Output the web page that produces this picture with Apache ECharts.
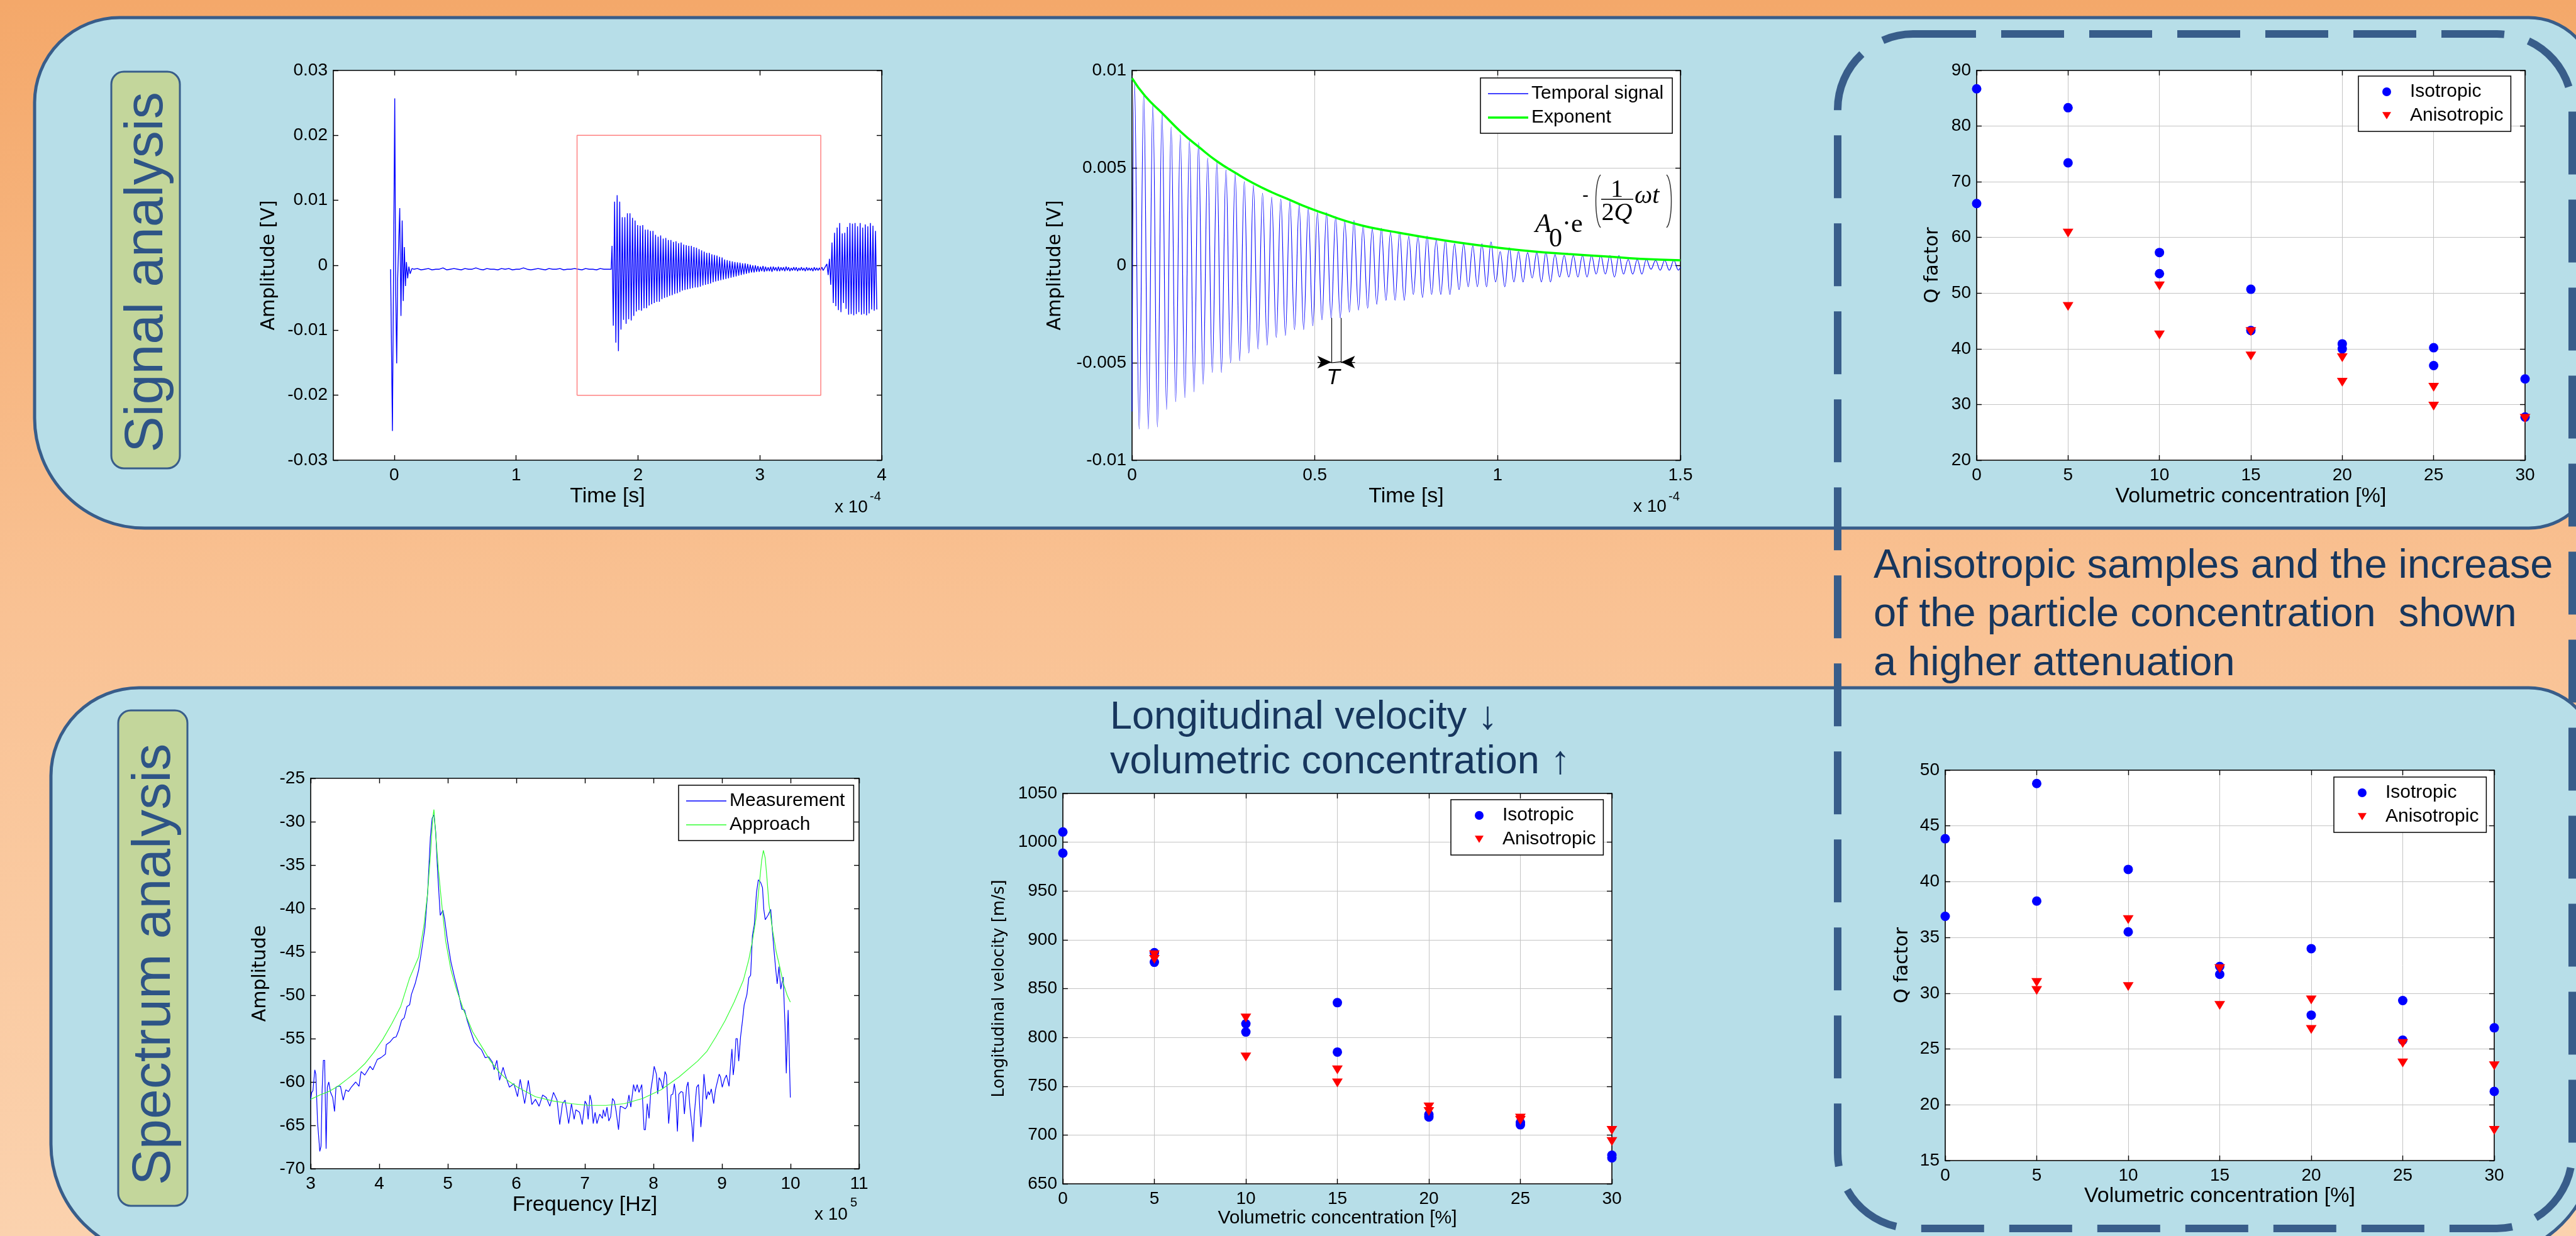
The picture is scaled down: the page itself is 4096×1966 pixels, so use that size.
<!DOCTYPE html>
<html>
<head>
<meta charset="utf-8">
<title>Signal and spectrum analysis</title>
<script src="https://cdn.jsdelivr.net/npm/echarts/dist/echarts.min.js"></script>
<style>
  html, body { margin: 0; padding: 0; background: #f6b983; }
  #main { width: 4096px; height: 1966px; }
</style>
</head>
<body>
<div id="main"></div>
<script>
// ---- Signal analysis, full record (time in 1e-4 s, amplitude in mV) ----
const pulseT = [-0.03, -0.015, 0.004, 0.012, 0.02, 0.028, 0.045, 0.055, 0.065, 0.074, 0.083, 0.092, 0.1, 0.11, 0.12, 0.13, 0.145];
const pulseV = [-0.6, -25.5, 25.7, -4.0, -15.1, -2.0, 8.8, -7.8, 6.9, -5.5, 2.8, -3.2, 0.5, -2.0, -0.2, -1.3, -0.5];
const noiseStart = 0.16, noiseStep = 0.03;
const noiseV = [-0.6,-0.5,-0.7,-0.6,-0.5,-0.7,-0.6,-0.6,-0.4,-0.7,-0.6,-0.5,-0.6,-0.7,-0.5,-0.6,-0.6,-0.4,-0.6,-0.7,
  -0.5,-0.6,-0.6,-0.7,-0.5,-0.6,-0.5,-0.7,-0.6,-0.6,-0.4,-0.6,-0.7,-0.6,-0.5,-0.6,-0.7,-0.5,-0.6,-0.6,
  -0.5,-0.7,-0.6,-0.6,-0.5,-0.6,-0.7,-0.5,-0.6,-0.6,-0.7,-0.5,-0.6,-0.6,-0.6];
const burstPeriod = 0.021;
const burst1Start = 1.787;
const burst1Hi = [3.0, 9.8, 10.8, 9.8, 7.4, 7.4, 8.0, 8.0, 7.3, 6.9, 6.2, 6.1, 6.2, 5.5, 5.5, 5.3, 5.3,
  4.7, 4.4, 4.6, 4.1, 4.2, 3.9, 3.9, 3.6, 3.7, 3.4, 3.5, 3.2, 3.1, 3.0, 3.0, 2.8, 2.7, 2.5, 2.3, 2.1,
  1.9, 1.9, 1.7, 1.6, 1.5, 1.3, 1.2, 0.9, 0.8, 0.7, 0.6, 0.5, 0.45, 0.4, 0.3, 0.3, 0.2, 0.1, 0.0, 0.0,
  -0.1, -0.2, -0.1, -0.2, -0.3, -0.2, -0.2, -0.3, -0.2, -0.3, -0.3, -0.2, -0.3, -0.4, -0.3, -0.3, -0.4,
  -0.3, -0.4, -0.3, -0.4, -0.4, -0.3, -0.4, -0.4, -0.3];
const burst1Lo = [-9.3, -11.9, -13.2, -9.9, -8.4, -9.0, -8.3, -8.5, -7.8, -7.1, -6.9, -7.0, -6.6, -6.6, -6.2, -6.0, -5.8,
  -5.6, -5.6, -5.2, -5.0, -4.9, -4.7, -4.6, -4.4, -4.3, -4.1, -3.9, -3.8, -3.7, -3.6, -3.5, -3.4, -3.4, -3.3, -3.1, -3.0,
  -2.9, -2.8, -2.6, -2.5, -2.4, -2.3, -2.2, -2.1, -2.0, -1.9, -1.8, -1.7, -1.6, -1.5, -1.4, -1.3, -1.2, -1.1, -1.1, -1.0,
  -1.0, -0.9, -1.0, -0.9, -0.9, -1.0, -0.8, -0.9, -0.9, -0.8, -0.9, -0.8, -0.9, -0.8, -0.8, -0.9, -0.8,
  -0.8, -0.9, -0.8, -0.8, -0.9, -0.8, -0.8, -0.8, -0.8];
const burst2Start = 3.55;
const burst2Hi = [0.2, 1.0, 3.5, 5.0, 5.8, 6.5, 4.9, 5.0, 5.9, 6.5, 6.4, 6.5, 6.0, 6.5, 5.8, 6.3, 6.0, 6.5, 6.1, 5.3];
const burst2Lo = [-1.5, -3.0, -5.8, -6.3, -6.9, -7.2, -5.8, -6.7, -7.6, -7.5, -7.7, -7.5, -7.2, -7.6, -7.5, -7.7, -7.4, -6.8, -7.0, -6.8];
const zoomBox = [[1.5, -20], [1.5, 20], [3.5, 20], [3.5, -20], [1.5, -20]];

// ---- Decay detail (time in 1e-4 s, amplitude in mV) ----
const decayStart = 0.007, decayPeriod = 0.025;
const decayHi = [9.5, 8.8, 8.3, 7.9, 7.1, 6.7, 6.4, 6.3, 5.5, 5.3,
  4.9, 4.7, 4.3, 4.1, 3.7, 3.5, 3.4, 3.3, 3.1, 2.9,
  2.7, 2.7, 2.5, 2.3, 2.3, 2.0, 1.9, 1.9, 1.7, 1.7,
  1.5, 1.5, 1.5, 1.3, 1.3, 1.1, 1.1, 1.0, 1.1, 1.2,
  0.7, 0.9, 0.7, 0.65, 0.65, 0.65, 0.55, 0.5, 0.5, 0.5,
  0.5, 0.5, 0.5, 0.5, 0.3, 0.3, 0.3, 0.25, 0.25, 0.25];
const decayLo = [-8.4, -8.4, -8.3, -7.4, -7.0, -6.8, -6.5, -6.1, -5.5, -5.5,
  -5.0, -4.9, -4.5, -4.3, -4.1, -3.7, -3.6, -3.3, -3.3, -3.1,
  -2.8, -2.7, -2.7, -2.4, -2.3, -2.2, -2.0, -1.8, -1.8, -1.8,
  -1.5, -1.65, -1.5, -1.5, -1.5, -1.25, -1.1, -1.1, -1.1, -0.85,
  -1.1, -0.85, -0.85, -0.65, -0.85, -0.85, -0.6, -0.6, -0.6, -0.6,
  -0.45, -0.45, -0.6, -0.45, -0.45, -0.45, -0.2, -0.25, -0.25, -0.25];
const expT = [0, 0.036, 0.085, 0.134, 0.184, 0.233, 0.283, 0.332, 0.382, 0.431, 0.481, 0.53, 0.58, 0.629, 0.679, 0.728, 0.797, 0.896, 0.995, 1.094, 1.193, 1.292, 1.391, 1.5];
const expV = [9.6, 8.68, 7.76, 6.84, 6.05, 5.33, 4.74, 4.21, 3.75, 3.36, 2.96, 2.63, 2.30, 2.04, 1.84, 1.68, 1.45, 1.16, 0.92, 0.72, 0.58, 0.46, 0.33, 0.26];
const periodMarks = [0.545, 0.572];

// ---- Q factor from the signal ----
const qTopIso = [[0,86.7],[0,66.1],[5,83.3],[5,73.4],[10,57.3],[10,53.5],[15,50.7],[15,43.3],[20,40.9],[20,40.0],[25,40.2],[25,37.0],[30,34.6],[30,27.75]];
const qTopAniso = [[5,60.8],[5,47.6],[10,51.3],[10,42.5],[15,43.1],[15,38.7],[20,38.4],[20,34.0],[25,33.1],[25,29.7],[30,27.5]];

// ---- Spectrum (frequency in 1e5 Hz, amplitude) ----
const specMeas = [[3.0,-62.1],[3.015,-61.2],[3.033,-61.0],[3.06,-58.6],[3.075,-59.1],[3.1,-64.6],[3.133,-68.0],[3.151,-67.4],[3.167,-60.9],[3.185,-57.5],
  [3.204,-57.5],[3.225,-67.7],[3.243,-60.6],[3.264,-60.0],[3.29,-61.2],[3.322,-61.8],[3.348,-63.4],[3.369,-60.6],[3.395,-60.5],[3.435,-60.5],
  [3.474,-62.1],[3.513,-60.9],[3.552,-61.1],[3.592,-60.6],[3.657,-60.0],[3.705,-60.5],[3.736,-58.8],[3.789,-59.2],[3.867,-58.2],[3.906,-58.6],
  [3.972,-57.4],[4.024,-57.2],[4.09,-56.8],[4.103,-55.7],[4.155,-55.4],[4.208,-54.9],[4.247,-54.8],[4.287,-54.0],[4.326,-52.9],[4.365,-52.6],
  [4.405,-51.3],[4.444,-51.1],[4.47,-49.9],[4.523,-48.7],[4.575,-47.1],[4.627,-44.4],[4.667,-42.2],[4.706,-38.2],[4.746,-31.8],[4.772,-29.6],
  [4.798,-29.2],[4.824,-31.2],[4.85,-35.5],[4.89,-40.8],[4.929,-40.2],[4.955,-41.3],[4.995,-43.7],[5.047,-46.2],[5.1,-48.0],[5.152,-49.6],
  [5.205,-51.6],[5.244,-51.7],[5.283,-52.9],[5.336,-54.2],[5.388,-55.4],[5.44,-55.9],[5.493,-56.3],[5.545,-57.2],[5.598,-57.1],[5.65,-57.7],
  [5.676,-58.6],[5.716,-57.5],[5.755,-59.8],[5.807,-58.3],[5.834,-59.1],[5.899,-60.6],[5.965,-60.2],[6.017,-61.7],[6.057,-59.7],[6.122,-62.5],
  [6.175,-59.8],[6.227,-62.6],[6.279,-62.0],[6.332,-62.8],[6.384,-61.5],[6.437,-61.8],[6.489,-62.8],[6.542,-61.2],[6.594,-62.1],[6.633,-64.9],
  [6.673,-62.5],[6.712,-62.1],[6.764,-64.8],[6.804,-62.5],[6.843,-64.3],[6.869,-63.2],[6.922,-63.5],[6.961,-64.9],[7.002,-62.2],[7.029,-62.6],
  [7.048,-64.3],[7.074,-61.5],[7.096,-62.2],[7.122,-64.8],[7.149,-63.5],[7.176,-64.8],[7.216,-63.7],[7.256,-64.2],[7.269,-63.2],[7.296,-64.0],
  [7.323,-62.9],[7.349,-64.5],[7.376,-64.0],[7.403,-61.9],[7.429,-62.2],[7.456,-63.4],[7.491,-65.5],[7.517,-62.8],[7.55,-62.9],[7.59,-63.1],
  [7.616,-62.8],[7.643,-61.5],[7.67,-62.9],[7.71,-60.3],[7.736,-61.1],[7.763,-60.3],[7.79,-61.2],[7.83,-60.3],[7.864,-65.5],[7.883,-65.5],
  [7.91,-62.5],[7.936,-64.2],[7.963,-60.9],[7.99,-59.5],[8.011,-58.2],[8.043,-59.1],[8.062,-61.4],[8.083,-59.5],[8.11,-59.9],[8.137,-60.8],
  [8.169,-58.8],[8.19,-59.2],[8.222,-64.8],[8.257,-61.5],[8.283,-61.4],[8.305,-60.2],[8.323,-61.2],[8.35,-65.7],[8.371,-61.4],[8.404,-61.1],
  [8.43,-61.2],[8.452,-63.7],[8.484,-60.6],[8.505,-60.0],[8.532,-62.9],[8.564,-65.2],[8.577,-66.9],[8.596,-63.8],[8.63,-60.6],[8.657,-60.3],
  [8.692,-65.2],[8.71,-63.5],[8.737,-59.1],[8.772,-62.0],[8.799,-61.1],[8.817,-61.5],[8.844,-60.8],[8.879,-62.5],[8.905,-60.9],[8.959,-59.1],
  [8.977,-59.4],[9.004,-60.6],[9.036,-59.7],[9.065,-59.2],[9.103,-60.5],[9.124,-58.2],[9.145,-56.2],[9.164,-59.2],[9.183,-57.9],[9.204,-55.0],
  [9.223,-55.0],[9.244,-57.6],[9.271,-54.8],[9.298,-53.0],[9.324,-51.1],[9.364,-49.9],[9.391,-48.0],[9.418,-47.7],[9.444,-43.1],[9.471,-41.9],
  [9.503,-38.2],[9.53,-36.7],[9.564,-37.0],[9.591,-37.6],[9.61,-40.1],[9.631,-41.3],[9.671,-40.8],[9.711,-40.1],[9.751,-44.1],[9.778,-46.5],
  [9.805,-48.7],[9.831,-46.7],[9.858,-49.3],[9.893,-47.9],[9.92,-53.6],[9.938,-59.0],[9.965,-51.7],[9.997,-61.8]];
const specFit = [[3.0,-62.0],[3.133,-61.5],[3.264,-61.1],[3.395,-60.5],[3.528,-59.7],[3.657,-58.9],[3.789,-57.9],[3.92,-56.6],[4.051,-55.1],[4.182,-53.3],
  [4.313,-51.3],[4.444,-48.0],[4.575,-45.6],[4.654,-41.9],[4.706,-38.2],[4.746,-33.9],[4.78,-29.6],[4.798,-28.6],[4.824,-31.5],[4.863,-35.5],
  [4.903,-38.8],[4.968,-43.7],[5.047,-47.1],[5.126,-49.3],[5.231,-51.7],[5.362,-54.2],[5.493,-55.9],[5.624,-57.6],[5.755,-58.9],[5.886,-59.9],
  [6.017,-60.6],[6.279,-61.7],[6.541,-62.2],[6.804,-62.5],[7.05,-62.7],[7.309,-62.7],[7.576,-62.5],[7.843,-61.9],[8.11,-60.9],[8.377,-59.4],
  [8.644,-57.6],[8.777,-56.5],[8.911,-54.8],[9.044,-52.95],[9.177,-50.8],[9.311,-48.3],[9.391,-45.9],[9.444,-43.75],[9.498,-41.0],[9.551,-36.7],
  [9.578,-34.5],[9.604,-33.3],[9.631,-34.2],[9.658,-36.7],[9.685,-39.5],[9.738,-42.5],[9.791,-45.0],[9.845,-46.8],[9.898,-48.7],[9.951,-50.0],[9.997,-50.8]];

// ---- Longitudinal velocity [m/s] ----
const velIso = [[0,1010.5],[0,988.8],[5,886.9],[5,877.0],[10,813.9],[10,805.5],[15,835.6],[15,785.0],[20,718.5],[20,721],[25,710.5],[25,712.7],[30,679.3],[30,676.6]];
const velAniso = [[5,884.6],[5,880],[10,819.9],[10,780],[15,766.7],[15,753.4],[20,728.7],[20,724.1],[25,717.3],[25,715],[30,704.8],[30,693.3]];

// ---- Q factor from the spectrum ----
const qBotIso = [[0,43.85],[0,36.9],[5,48.8],[5,38.26],[10,41.1],[10,35.5],[15,32.4],[15,31.7],[20,34.0],[20,28.04],[25,29.34],[25,25.8],[30,26.9],[30,21.2]];
const qBotAniso = [[5,30.97],[5,30.24],[10,36.6],[10,30.6],[15,32.2],[15,28.9],[20,29.4],[20,26.75],[25,25.5],[25,23.75],[30,23.5],[30,17.7]];

const FONT = "'Liberation Sans', Arial, sans-serif";
const YFONT = "'DejaVu Sans', Verdana, sans-serif";
const SERIF = "'Liberation Serif', 'Times New Roman', serif";
const NAVY = '#17365D';
const EDGE = '#385D8A';

// build the waveforms from the peak lists
const sigData = pulseT.map((t, i) => [t, pulseV[i]]);
noiseV.forEach((v, i) => sigData.push([noiseStart + i * noiseStep, v]));
burst1Hi.forEach((v, i) => {
  sigData.push([burst1Start + i * burstPeriod, v]);
  sigData.push([burst1Start + (i + 0.5) * burstPeriod, burst1Lo[i]]);
});
burst2Hi.forEach((v, i) => {
  sigData.push([burst2Start + i * burstPeriod, v]);
  sigData.push([burst2Start + (i + 0.5) * burstPeriod, burst2Lo[i]]);
});

const decayData = [[0, -7.5]];
decayHi.forEach((v, i) => {
  decayData.push([decayStart + i * decayPeriod, v]);
  decayData.push([decayStart + (i + 0.5) * decayPeriod, decayLo[i]]);
});
decayData.push([1.5, -0.1]);
const expData = expT.map((t, i) => [t, expV[i]]);

const grids = [
  { left: 530, top: 112, width: 872, height: 620 },
  { left: 1800, top: 112, width: 872, height: 620 },
  { left: 3143, top: 112, width: 872, height: 620 },
  { left: 494, top: 1238, width: 872, height: 621 },
  { left: 1690, top: 1262, width: 873, height: 621 },
  { left: 3093, top: 1225, width: 873, height: 621 }
].map(g => Object.assign(g, { show: true, backgroundColor: '#fff', borderWidth: 0 }));

// main axis + mirrored axis (ticks only) like a matlab box
function axisPair(dim, gi, cfg) {
  const common = {
    type: 'value', gridIndex: gi, min: cfg.min, max: cfg.max, interval: cfg.interval,
    axisLine: { show: true, onZero: false, lineStyle: { color: '#000', width: 1.6 } },
    axisTick: { show: true, inside: true, length: 8, customValues: cfg.ticks, lineStyle: { color: '#000', width: 1.4 } },
    splitLine: { show: false }
  };
  const main = Object.assign({}, common, {
    position: dim === 'x' ? 'bottom' : 'left',
    name: cfg.name, nameLocation: 'middle', nameGap: cfg.gap, nameRotate: dim === 'y' ? 90 : 0,
    nameTextStyle: dim === 'x'
      ? { fontFamily: FONT, fontSize: cfg.nameSize || 34, color: '#000' }
      : { fontFamily: YFONT, fontSize: cfg.nameSize || 30, color: '#000' },
    axisLabel: { show: true, margin: dim === 'x' ? 10 : 9, fontFamily: FONT, fontSize: 28, color: '#000',
      customValues: cfg.ticks, formatter: cfg.fmt || (v => String(v)) },
    splitLine: { show: !!cfg.grid, lineStyle: { color: '#c4c4c4', width: 1 } }
  });
  const mirror = Object.assign({}, common, {
    position: dim === 'x' ? 'top' : 'right', axisLabel: { show: false }
  });
  return [main, mirror];
}

const mv = v => String(v / 1000);
const xAxes = [].concat(
  axisPair('x', 0, { min: -0.5, max: 4, ticks: [0, 1, 2, 3, 4], name: 'Time [s]', gap: 41 }),
  axisPair('x', 1, { min: 0, max: 1.5, interval: 0.5, name: 'Time [s]', gap: 41, grid: true }),
  axisPair('x', 2, { min: 0, max: 30, interval: 5, name: 'Volumetric concentration [%]', gap: 41, grid: true }),
  axisPair('x', 3, { min: 3, max: 11, interval: 1, name: 'Frequency [Hz]', gap: 41 }),
  axisPair('x', 4, { min: 0, max: 30, interval: 5, name: 'Volumetric concentration [%]', gap: 40, grid: true, nameSize: 30 }),
  axisPair('x', 5, { min: 0, max: 30, interval: 5, name: 'Volumetric concentration [%]', gap: 40, grid: true })
);
const yAxes = [].concat(
  axisPair('y', 0, { min: -30, max: 30, interval: 10, name: 'Amplitude [V]', gap: 87, fmt: mv }),
  axisPair('y', 1, { min: -10, max: 10, interval: 5, name: 'Amplitude [V]', gap: 107, fmt: mv, grid: true }),
  axisPair('y', 2, { min: 20, max: 90, interval: 10, name: 'Q factor', gap: 55, grid: true }),
  axisPair('y', 3, { min: -70, max: -25, interval: 5, name: 'Amplitude', gap: 65 }),
  axisPair('y', 4, { min: 650, max: 1050, interval: 50, name: 'Longitudinal velocity [m/s]', gap: 88, grid: true, nameSize: 26 }),
  axisPair('y', 5, { min: 15, max: 50, interval: 5, name: 'Q factor', gap: 53, grid: true })
);

function lineSeries(name, gi, data, color, width, extra) {
  return Object.assign({
    name, type: 'line', xAxisIndex: 2 * gi, yAxisIndex: 2 * gi, data,
    symbol: 'none', lineStyle: { color, width }, itemStyle: { color }, silent: true
  }, extra || {});
}
function scatterSeries(name, gi, data, aniso) {
  return {
    name, type: 'scatter', xAxisIndex: 2 * gi, yAxisIndex: 2 * gi, data,
    symbol: aniso ? 'triangle' : 'circle', symbolRotate: aniso ? 180 : 0,
    symbolSize: aniso ? [17, 14] : 15,
    itemStyle: { color: aniso ? '#ff0000' : '#0000ff', opacity: 1 }, silent: true
  };
}
// legend icons: plain strokes for lines, dot / down triangle for markers
const thinIcon = 'path://M0,0H64V1.3H0Z';
const thickIcon = 'path://M0,0H64V3.5H0Z';
const triIcon = 'path://M0,0L16,0L8,13Z';
const legendBase = {
  orient: 'vertical', selectedMode: false, itemGap: 8,
  symbolRotate: 0, symbolKeepAspect: true,
  backgroundColor: '#fff', borderColor: '#000', borderWidth: 1.5, borderRadius: 0
};
function lineLegend(left, top, items) {
  return Object.assign({}, legendBase, {
    left, top, data: items, itemWidth: 64, itemHeight: 14, padding: [10, 14, 10, 12],
    textStyle: { fontFamily: FONT, fontSize: 30, color: '#000', lineHeight: 30 }
  });
}
function markerLegend(left, top) {
  return Object.assign({}, legendBase, {
    left, top, itemWidth: 14, itemHeight: 14, padding: [10, 12, 10, 38],
    data: [{ name: 'Isotropic', icon: 'circle' }, { name: 'Anisotropic', icon: triIcon }],
    textStyle: { fontFamily: FONT, fontSize: 30, color: '#000', lineHeight: 30, padding: [0, 0, 0, 25] }
  });
}

const series = [
  lineSeries('Signal', 0, sigData, '#0000ff', 1.4),
  lineSeries('Zoom', 0, zoomBox, '#ff8080', 1.5),
  lineSeries('Temporal signal', 1, decayData, '#0000ff', 1.1, {
    smooth: 0.4,
    markLine: {
      silent: true, symbol: 'none', animation: false, label: { show: false },
      lineStyle: { color: '#000', width: 1.2, type: 'solid' },
      emphasis: { disabled: true },
      data: [
        [{ coord: [periodMarks[0], -2.7] }, { coord: [periodMarks[0], -5.0] }],
        [{ coord: [periodMarks[1], -2.7] }, { coord: [periodMarks[1], -5.0] }],
        [{ coord: [periodMarks[0], -5.0] }, { coord: [periodMarks[1], -4.95] }],
        [{ coord: [0.507, -4.97], symbol: 'none' }, { coord: [periodMarks[0], -4.97], symbol: 'arrow', symbolSize: [15, 22] }],
        [{ coord: [0.610, -4.97], symbol: 'none' }, { coord: [periodMarks[1], -4.97], symbol: 'arrow', symbolSize: [15, 22] }]
      ]
    }
  }),
  lineSeries('Exponent', 1, expData, '#00ff00', 3.5, { smooth: true }),
  scatterSeries('Isotropic', 2, qTopIso, false),
  scatterSeries('Anisotropic', 2, qTopAniso, true),
  lineSeries('Measurement', 3, specMeas, '#0000ff', 1.2),
  lineSeries('Approach', 3, specFit, '#33ff33', 1.2),
  scatterSeries('Isotropic', 4, velIso, false),
  scatterSeries('Anisotropic', 4, velAniso, true),
  scatterSeries('Isotropic', 5, qBotIso, false),
  scatterSeries('Anisotropic', 5, qBotAniso, true)
];

function txt(x, y, text, size, opt) {
  return Object.assign({
    type: 'text', x, y, z: 100, silent: true,
    style: Object.assign({ text, fontSize: size, fontFamily: FONT, fill: '#000',
      align: 'left', verticalAlign: 'middle' }, (opt && opt.style) || {})
  }, (opt && opt.el) || {});
}

const graphics = [
  // poster background and panels
  { type: 'rect', z: -30, silent: true, shape: { x: 0, y: 0, width: 4096, height: 1966 },
    style: { fill: { type: 'linear', x: 0, y: 0, x2: 0, y2: 1,
      colorStops: [{ offset: 0, color: '#F4A86A' }, { offset: 0.5, color: '#F9C294' }, { offset: 1, color: '#FBD2AE' }] } } },
  { type: 'rect', z: -20, silent: true, shape: { x: 55, y: 28, width: 4071, height: 812, r: [135, 105, 105, 175] },
    style: { fill: '#B7DEE8', stroke: EDGE, lineWidth: 5 } },
  { type: 'rect', z: -20, silent: true, shape: { x: 81, y: 1094, width: 4045, height: 906, r: [140, 105, 180, 180] },
    style: { fill: '#B7DEE8', stroke: EDGE, lineWidth: 5 } },
  { type: 'rect', z: -10, silent: true, shape: { x: 177, y: 114, width: 109, height: 631, r: 20 },
    style: { fill: '#C3D69B', stroke: EDGE, lineWidth: 3 } },
  { type: 'rect', z: -10, silent: true, shape: { x: 188, y: 1130, width: 110, height: 788, r: 20 },
    style: { fill: '#C3D69B', stroke: EDGE, lineWidth: 3 } },
  txt(234, 433, 'Signal analysis', 86, { el: { rotation: Math.PI / 2 }, style: { align: 'center', fill: '#2E5486' } }),
  txt(246, 1534, 'Spectrum analysis', 86, { el: { rotation: Math.PI / 2 }, style: { align: 'center', fill: '#2E5486' } }),
  // dashed frame around the Q factor results
  { type: 'rect', z: 50, silent: true, shape: { x: 2922, y: 54, width: 1168, height: 1900, r: 120 },
    style: { fill: null, stroke: EDGE, lineWidth: 12, lineDash: [100, 40] } },
  // captions
  txt(2979, 901, 'Anisotropic samples and the increase', 65, { style: { fill: NAVY } }),
  txt(2979, 978, 'of the particle concentration  shown', 65, { style: { fill: NAVY } }),
  txt(2979, 1056, 'a higher attenuation', 65, { style: { fill: NAVY } }),
  txt(1765, 1142, 'Longitudinal velocity \u2193', 63, { style: { fill: NAVY } }),
  txt(1765, 1213, 'volumetric concentration \u2191', 63, { style: { fill: NAVY } }),
  // axis multipliers
  txt(1327, 807, 'x 10', 28), txt(1383, 790, '-4', 20),
  txt(2597, 806, 'x 10', 28), txt(2653, 790, '-4', 20),
  txt(1295, 1932, 'x 10', 28), txt(1352, 1913, '5', 20),
  // exponent formula
  txt(2441, 358, 'A', 42, { style: { fontFamily: SERIF, fontStyle: 'italic' } }),
  txt(2463, 381, '0', 42, { style: { fontFamily: SERIF } }),
  txt(2484, 358, '\u00b7e', 42, { style: { fontFamily: SERIF } }),
  txt(2516, 312, '-', 30),
  { type: 'bezierCurve', z: 100, silent: true,
    shape: { x1: 2545, y1: 278, cpx1: 2535, cpy1: 288, cpx2: 2535, cpy2: 352, x2: 2545, y2: 362 },
    style: { stroke: '#333', lineWidth: 1.5, fill: null } },
  { type: 'bezierCurve', z: 100, silent: true,
    shape: { x1: 2650, y1: 278, cpx1: 2660, cpy1: 288, cpx2: 2660, cpy2: 352, x2: 2650, y2: 362 },
    style: { stroke: '#333', lineWidth: 1.5, fill: null } },
  txt(2571, 302, '1', 40, { style: { fontFamily: SERIF, align: 'center' } }),
  { type: 'line', z: 100, silent: true, shape: { x1: 2546, y1: 317, x2: 2597, y2: 317 }, style: { stroke: '#000', lineWidth: 1.5 } },
  txt(2571, 339, '2{q|Q}', 40, { style: { fontFamily: SERIF, align: 'center',
    rich: { q: { fontFamily: SERIF, fontStyle: 'italic', fontSize: 40 } } } }),
  txt(2599, 312, '\u03c9t', 40, { style: { fontFamily: SERIF, fontStyle: 'italic' } }),
  txt(2120, 601, 'T', 35, { style: { fontStyle: 'italic', align: 'center' } })
];

const chart = echarts.init(document.getElementById('main'), null, { renderer: 'canvas' });
chart.setOption({
  animation: false,
  backgroundColor: 'transparent',
  grid: grids,
  xAxis: xAxes,
  yAxis: yAxes,
  legend: [
    lineLegend(2354, 124, [{ name: 'Temporal signal', icon: thinIcon }, { name: 'Exponent', icon: thickIcon }]),
    markerLegend(3750, 121),
    lineLegend(1079, 1249, [{ name: 'Measurement', icon: thinIcon }, { name: 'Approach', icon: thinIcon }]),
    markerLegend(2307, 1272),
    markerLegend(3711, 1236)
  ],
  graphic: { elements: graphics },
  series
});
</script>
</body>
</html>
